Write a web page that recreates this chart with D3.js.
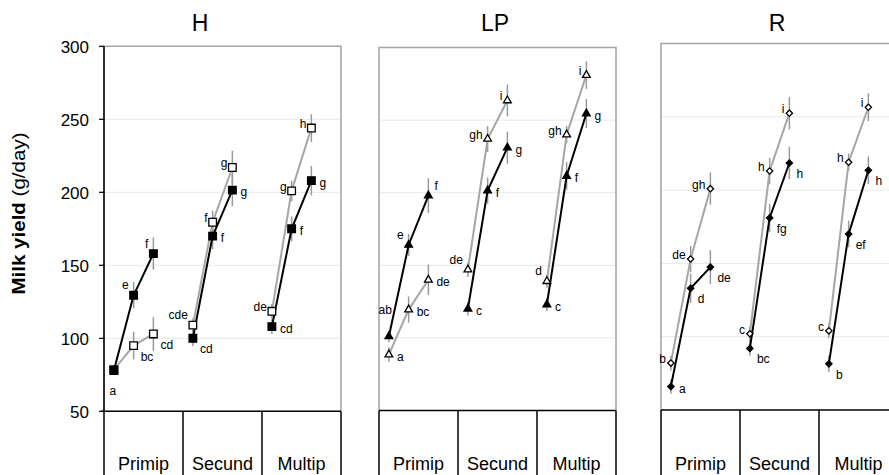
<!DOCTYPE html>
<html>
<head>
<meta charset="utf-8">
<script src="https://cdn.jsdelivr.net/npm/d3@7"></script>
<style>
  body { margin: 0; background: #fff; }
  svg { display: block; }
  text { font-family: "Liberation Sans", Arial, sans-serif; fill: #000; }
</style>
</head>
<body>
<svg id="chart" width="889" height="475"></svg>
<script>
(function () {

  // panels, parity groups and y ticks
  const panels = ["H", "LP", "R"];
  const parities = ["Primip", "Secund", "Multip"];
  const yTicks = [50, 100, 150, 200, 250, 300];

  // milk yield (g/day), 3 stages per parity: Primip x3, Secund x3, Multip x3
  const hFilled = [78, 129.5, 158, 100, 170, 201.5, 108, 175, 208];
  const hOpen = [78.5, 95, 103, 109, 179.5, 217, 118.5, 201, 244];
  const lpFilled = [101, 164, 198, 120, 201.5, 231, 123, 211.5, 254.5];
  const lpOpen = [88.5, 119.5, 140, 147, 237, 263.5, 139, 240, 281];
  const rFilled = [66, 133, 147.5, 92, 181, 218.5, 81.5, 170, 213.5];
  const rOpen = [82, 153, 201, 102, 213, 252.5, 104, 219, 256.5];

  // error bar half lengths (g/day)
  const hFilledErr = [3, 9, 11, 5.5, 9, 11, 5, 8.5, 10];
  const hOpenErr = [3, 9.5, 11.5, 4.5, 8, 11.5, 5, 7, 9.5];
  const lpFilledErr = [4, 7.5, 12, 4.5, 9, 11, 4.5, 9.5, 10];
  const lpOpenErr = [5, 9, 10.5, 5, 9, 11, 4.5, 6, 9.5];
  const rFilledErr = [5, 10, 11.5, 5, 9.5, 11, 5.5, 9, 9.5];
  const rOpenErr = [5, 9, 11, 5, 9, 11, 5, 6, 9.5];

  // significance letters
  const hFilledSig = ["a", "e", "f", "cd", "f", "g", "cd", "f", "g"];
  const hOpenSig = ["", "bc", "cd", "cde", "f", "g", "de", "g", "h"];
  const lpFilledSig = ["ab", "e", "f", "c", "f", "g", "c", "f", "g"];
  const lpOpenSig = ["a", "bc", "de", "de", "gh", "i", "d", "gh", "i"];
  const rFilledSig = ["a", "d", "de", "bc", "fg", "h", "b", "ef", "h"];
  const rOpenSig = ["b", "de", "gh", "c", "h", "i", "c", "h", "i"];

  // where each letter sits around its point
  const place = {
    L:  { anchor: "end",    dx: -5, dy: 0 },
    LU: { anchor: "end",    dx: -5, dy: -6 },
    R:  { anchor: "start",  dx: 8,  dy: 6 },
    RU: { anchor: "start",  dx: 6,  dy: -6 },
    RD: { anchor: "start",  dx: 7,  dy: 15 },
    B:  { anchor: "middle", dx: -1, dy: 25 },
    U:  { anchor: "end",    dx: 3,  dy: -22 }
  };

  const panelCfg = [
    { left: 104, right: 341, top: 46.3, bottom: 411.3, titleX: 200,
      symbol: d3.symbolSquare, size: 58, rotate: 0, yAxis: true,
      filled: hFilled, open: hOpen, filledErr: hFilledErr, openErr: hOpenErr,
      filledSig: hFilledSig, openSig: hOpenSig,
      filledPos: ["B", "LU", "LU", "RD", "R", "R", "R", "R", "R"],
      openPos: ["", "RD", "RD", "LU", "L", "L", "L", "L", "L"] },
    { left: 379, right: 616, top: 47.5, bottom: 410.5, titleX: 495,
      symbol: d3.symbolTriangle, size: 26, rotate: 0, yAxis: false,
      filled: lpFilled, open: lpOpen, filledErr: lpFilledErr, openErr: lpOpenErr,
      filledSig: lpFilledSig, openSig: lpOpenSig,
      filledPos: ["U", "LU", "RU", "R", "R", "R", "R", "R", "R"],
      openPos: ["R", "R", "R", "LU", "L", "L", "LU", "L", "L"] },
    { left: 661, right: 898, top: 43.5, bottom: 410, titleX: 777,
      symbol: d3.symbolSquare, size: 20, rotate: 45, yAxis: false,
      filled: rFilled, open: rOpen, filledErr: rFilledErr, openErr: rOpenErr,
      filledSig: rFilledSig, openSig: rOpenSig,
      filledPos: ["R", "RD", "RD", "RD", "RD", "RD", "RD", "RD", "RD"],
      openPos: ["L", "L", "L", "L", "L", "L", "L", "L", "L"] }
  ];

  const svg = d3.select("#chart");
  const borderGray = "#a3a3a3";
  const lineGray = "#a6a6a6";
  const barGray = "#9a9a9a";

  // y axis title
  const yTitle = svg.append("text")
    .attr("transform", "translate(25,213.5) rotate(-90)")
    .attr("text-anchor", "middle")
    .attr("textLength", 162)
    .attr("lengthAdjust", "spacingAndGlyphs")
    .style("font-size", "18px");
  yTitle.append("tspan").style("font-weight", "bold").text("Milk yield");
  yTitle.append("tspan").text(" (g/day)");

  panelCfg.forEach((p, pi) => {
    const g = svg.append("g");

    const x = d3.scaleBand()
      .domain(d3.range(parities.length * 4))
      .range([p.left, p.right]);
    const y = d3.scaleLinear()
      .domain([yTicks[0], yTicks[yTicks.length - 1]])
      .range([p.bottom, p.top]);
    const cx = i => x(Math.floor(i / 3) * 4 + (i % 3)) + x.bandwidth() / 2;

    // title
    g.append("text")
      .attr("x", p.titleX)
      .attr("y", 31)
      .attr("text-anchor", "middle")
      .style("font-size", "23px")
      .text(panels[pi]);

    // gridlines
    g.selectAll(".grid")
      .data(yTicks.slice(1, -1))
      .enter().append("line")
      .attr("x1", p.left).attr("x2", p.right)
      .attr("y1", d => y(d)).attr("y2", d => y(d))
      .style("stroke", "#e8e8e8")
      .style("stroke-width", 1);

    // frame
    g.append("path")
      .attr("d", `M${p.left},${p.bottom} V${y(300)} H${p.right} V${p.bottom}`)
      .style("fill", "none")
      .style("stroke", borderGray)
      .style("stroke-width", 1.5);

    // y axis (first panel only)
    if (p.yAxis) {
      g.append("line")
        .attr("x1", p.left).attr("x2", p.left)
        .attr("y1", y(300)).attr("y2", p.bottom)
        .style("stroke", "#000").style("stroke-width", 1.5);
      g.selectAll(".tick")
        .data(yTicks)
        .enter().append("line")
        .attr("x1", p.left - 5).attr("x2", p.left)
        .attr("y1", d => y(d)).attr("y2", d => y(d))
        .style("stroke", "#000").style("stroke-width", 1.2);
      g.selectAll(".tlab")
        .data(yTicks)
        .enter().append("text")
        .attr("x", 89)
        .attr("y", d => y(d) + 7)
        .attr("text-anchor", "end")
        .style("font-size", "17px")
        .text(d => d);
    }

    // category boxes under the plot
    g.append("line")
      .attr("x1", p.yAxis ? p.left - 3 : p.left).attr("x2", p.right)
      .attr("y1", p.bottom).attr("y2", p.bottom)
      .style("stroke", "#000").style("stroke-width", 1.5);
    const edges = d3.range(parities.length + 1).map(k =>
      k < parities.length ? x(k * 4) : p.right);
    g.selectAll(".div")
      .data(edges)
      .enter().append("line")
      .attr("x1", d => d).attr("x2", d => d)
      .attr("y1", p.bottom).attr("y2", 480)
      .style("stroke", "#000").style("stroke-width", 1.5);
    g.selectAll(".cat")
      .data(parities)
      .enter().append("text")
      .attr("x", (d, k) => (edges[k] + edges[k + 1]) / 2)
      .attr("y", 470)
      .attr("text-anchor", "middle")
      .style("font-size", "18px")
      .text(d => d);

    const series = [
      { vals: p.open, err: p.openErr, sig: p.openSig, pos: p.openPos, line: lineGray, fill: "#fff" },
      { vals: p.filled, err: p.filledErr, sig: p.filledSig, pos: p.filledPos, line: "#000", fill: "#000" }
    ];

    // error bars
    series.forEach(s => {
      g.selectAll(null)
        .data(s.vals)
        .enter().append("line")
        .attr("x1", (d, i) => cx(i)).attr("x2", (d, i) => cx(i))
        .attr("y1", (d, i) => y(d - s.err[i]))
        .attr("y2", (d, i) => y(d + s.err[i]))
        .style("stroke", barGray)
        .style("stroke-width", 1.5);
    });

    // connecting lines, one per parity group
    const line = d3.line().x(d => d[0]).y(d => d[1]);
    series.forEach(s => {
      parities.forEach((c, k) => {
        const pts = d3.range(3).map(j => [cx(k * 3 + j), y(s.vals[k * 3 + j])]);
        g.append("path")
          .attr("d", line(pts))
          .style("fill", "none")
          .style("stroke", s.line)
          .style("stroke-width", 2);
      });
    });

    // markers
    const sym = d3.symbol().type(p.symbol).size(p.size);
    series.forEach(s => {
      g.selectAll(null)
        .data(s.vals)
        .enter().append("path")
        .attr("d", sym)
        .attr("transform", (d, i) => `translate(${cx(i)},${y(d)}) rotate(${p.rotate})`)
        .style("fill", s.fill)
        .style("stroke", "#000")
        .style("stroke-width", 1.3);
    });

    // significance letters
    series.forEach(s => {
      s.vals.forEach((d, i) => {
        if (!s.sig[i]) return;
        const o = place[s.pos[i]];
        g.append("text")
          .attr("x", cx(i) + o.dx)
          .attr("y", y(d) + o.dy)
          .attr("text-anchor", o.anchor)
          .style("font-size", "12px")
          .text(s.sig[i]);
      });
    });
  });

})();
</script>
</body>
</html>
